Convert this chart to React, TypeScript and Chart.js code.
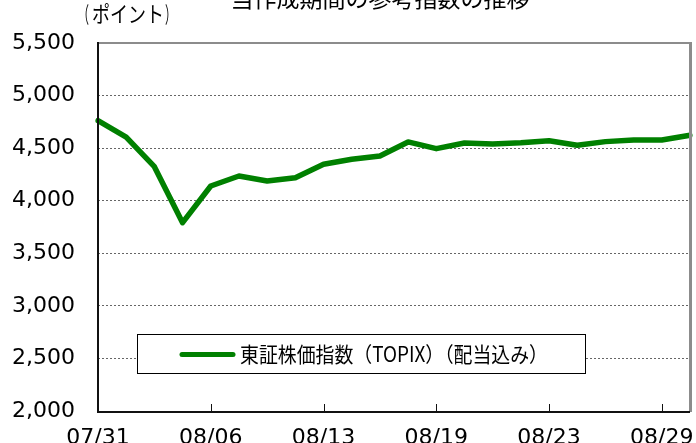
import React, { useEffect, useRef } from "react";
import { Chart, registerables } from "chart.js";

Chart.register(...registerables);

const dates = [
  "07/31", "08/01", "08/02", "08/05", "08/06", "08/07", "08/08", "08/09",
  "08/13", "08/14", "08/15", "08/16", "08/19", "08/20", "08/21", "08/22",
  "08/23", "08/26", "08/27", "08/28", "08/29", "08/30",
];
const topixValues = [
  4761, 4604, 4324, 3791, 4140, 4235, 4187, 4219, 4347, 4394, 4426,
  4559, 4495, 4549, 4540, 4552, 4571, 4527, 4562, 4578, 4578, 4623,
];
const yTicks = [2000, 2500, 3000, 3500, 4000, 4500, 5000, 5500];
const seriesLabel = "東証株価指数（TOPIX）（配当込み）";
const titleText = "当作成期間の参考指数の推移";
const unitText = "ポイント";
const lineColor = "#008000";
const labelEvery = 4;

const decorPlugin = {
  id: "decor",
  beforeDraw(chart: any) {
    const { ctx, width, height } = chart;
    ctx.save();
    ctx.fillStyle = "#ffffff";
    ctx.fillRect(0, 0, width, height);
    ctx.restore();
  },
  afterDatasetsDraw(chart: any) {
    const { ctx, chartArea } = chart;
    const { left, right, top, bottom } = chartArea;
    const xs = chart.scales.x;
    ctx.save();
    // frame
    ctx.strokeStyle = "#8c8c8c";
    ctx.lineWidth = 2;
    ctx.beginPath();
    ctx.moveTo(left, top);
    ctx.lineTo(right, top);
    ctx.stroke();
    ctx.lineWidth = 3;
    ctx.beginPath();
    ctx.moveTo(right + 0.5, top - 1);
    ctx.lineTo(right + 0.5, bottom + 1);
    ctx.stroke();
    ctx.strokeStyle = "#111111";
    ctx.lineWidth = 2;
    ctx.beginPath();
    ctx.moveTo(left, top - 1);
    ctx.lineTo(left, bottom + 1);
    ctx.lineTo(right, bottom + 1);
    ctx.stroke();
    // inner tick marks
    ctx.lineWidth = 1;
    xs.ticks.forEach((t: any, i: number) => {
      if (i === 0 || i % labelEvery !== 0) return;
      const x = Math.round(xs.getPixelForTick(i)) + 0.5;
      ctx.beginPath();
      ctx.moveTo(x, bottom);
      ctx.lineTo(x, bottom - 7);
      ctx.stroke();
    });
    // legend box
    const bx = 137, by = 334, bw = 448, bh = 39;
    ctx.fillStyle = "#ffffff";
    ctx.fillRect(bx, by, bw, bh);
    ctx.strokeStyle = "#000000";
    ctx.lineWidth = 1;
    ctx.strokeRect(bx + 0.5, by + 0.5, bw, bh);
    const ds = chart.data.datasets[0];
    ctx.strokeStyle = ds.borderColor;
    ctx.lineWidth = 5;
    ctx.lineCap = "round";
    ctx.beginPath();
    ctx.moveTo(182, by + bh / 2 + 1);
    ctx.lineTo(233, by + bh / 2 + 1);
    ctx.stroke();
    ctx.fillStyle = "#000000";
    ctx.font = '21px "Noto Sans CJK JP"';
    ctx.textBaseline = "middle";
    ctx.textAlign = "left";
    ctx.fillText(ds.label, 240, by + bh / 2 + 1, 308);
    // title and unit
    ctx.font = '23px "Noto Sans CJK JP"';
    ctx.textAlign = "center";
    ctx.textBaseline = "bottom";
    ctx.fillText(titleText, 380, 10, 300);
    ctx.font = '22px "Noto Sans CJK JP"';
    ctx.textAlign = "left";
    ctx.textBaseline = "middle";
    ctx.fillText("（", 78, 14, 11);
    ctx.fillText(unitText, 92, 14, 72);
    ctx.fillText("）", 165, 14, 11);
    ctx.restore();
  },
};

export default function App() {
  const ref = useRef<HTMLCanvasElement>(null);
  useEffect(() => {
    if (!ref.current) return;
    const chart = new Chart(ref.current, {
      type: "line",
      data: {
        labels: dates,
        datasets: [
          {
            label: seriesLabel,
            data: topixValues,
            borderColor: lineColor,
            backgroundColor: lineColor,
            borderWidth: 5.5,
            pointRadius: 0,
            tension: 0,
            borderJoinStyle: "round",
            borderCapStyle: "round",
          },
        ],
      },
      options: {
        responsive: false,
        animation: false,
        layout: { padding: { top: 43, right: 6, left: 0, bottom: 0 } },
        plugins: { legend: { display: false }, tooltip: { enabled: false } },
        scales: {
          x: {
            offset: false,
            grid: {
              display: true,
              drawOnChartArea: false,
              drawTicks: true,
              tickLength: 14,
              color: "rgba(0,0,0,0)",
              tickColor: "rgba(0,0,0,0)",
            },
            border: { display: false },
            afterFit: (s: any) => {
              s.height = 32;
            },
            ticks: {
              autoSkip: false,
              maxRotation: 0,
              minRotation: 0,
              padding: 0,
              color: "#000",
              font: { family: "DejaVu Sans", size: 22 },
              callback: (v: any, i: number) => (i % labelEvery === 0 ? dates[i] : ""),
            },
          },
          y: {
            min: yTicks[0],
            max: yTicks[yTicks.length - 1],
            afterBuildTicks: (s: any) => {
              s.ticks = yTicks.map((v) => ({ value: v }));
            },
            afterFit: (s: any) => {
              s.width = 98;
            },
            grid: {
              drawTicks: true,
              tickLength: 20,
              tickColor: "rgba(0,0,0,0)",
              color: (c: any) =>
                c.tick && (c.tick.value === yTicks[0] || c.tick.value === yTicks[yTicks.length - 1])
                  ? "rgba(0,0,0,0)"
                  : "#666666",
              lineWidth: 1,
            },
            border: { display: false, dash: [2, 2] },
            ticks: {
              padding: 3,
              color: "#000",
              font: { family: "DejaVu Sans", size: 22 },
              callback: (v: any) => Number(v).toLocaleString("en-US"),
            },
          },
        },
      },
      plugins: [decorPlugin],
    });
    return () => chart.destroy();
  }, []);
  return (
    <div style={{ position: "absolute", left: 0, top: 0, width: 696, height: 443 }}>
      <canvas ref={ref} width={696} height={443} />
    </div>
  );
}
